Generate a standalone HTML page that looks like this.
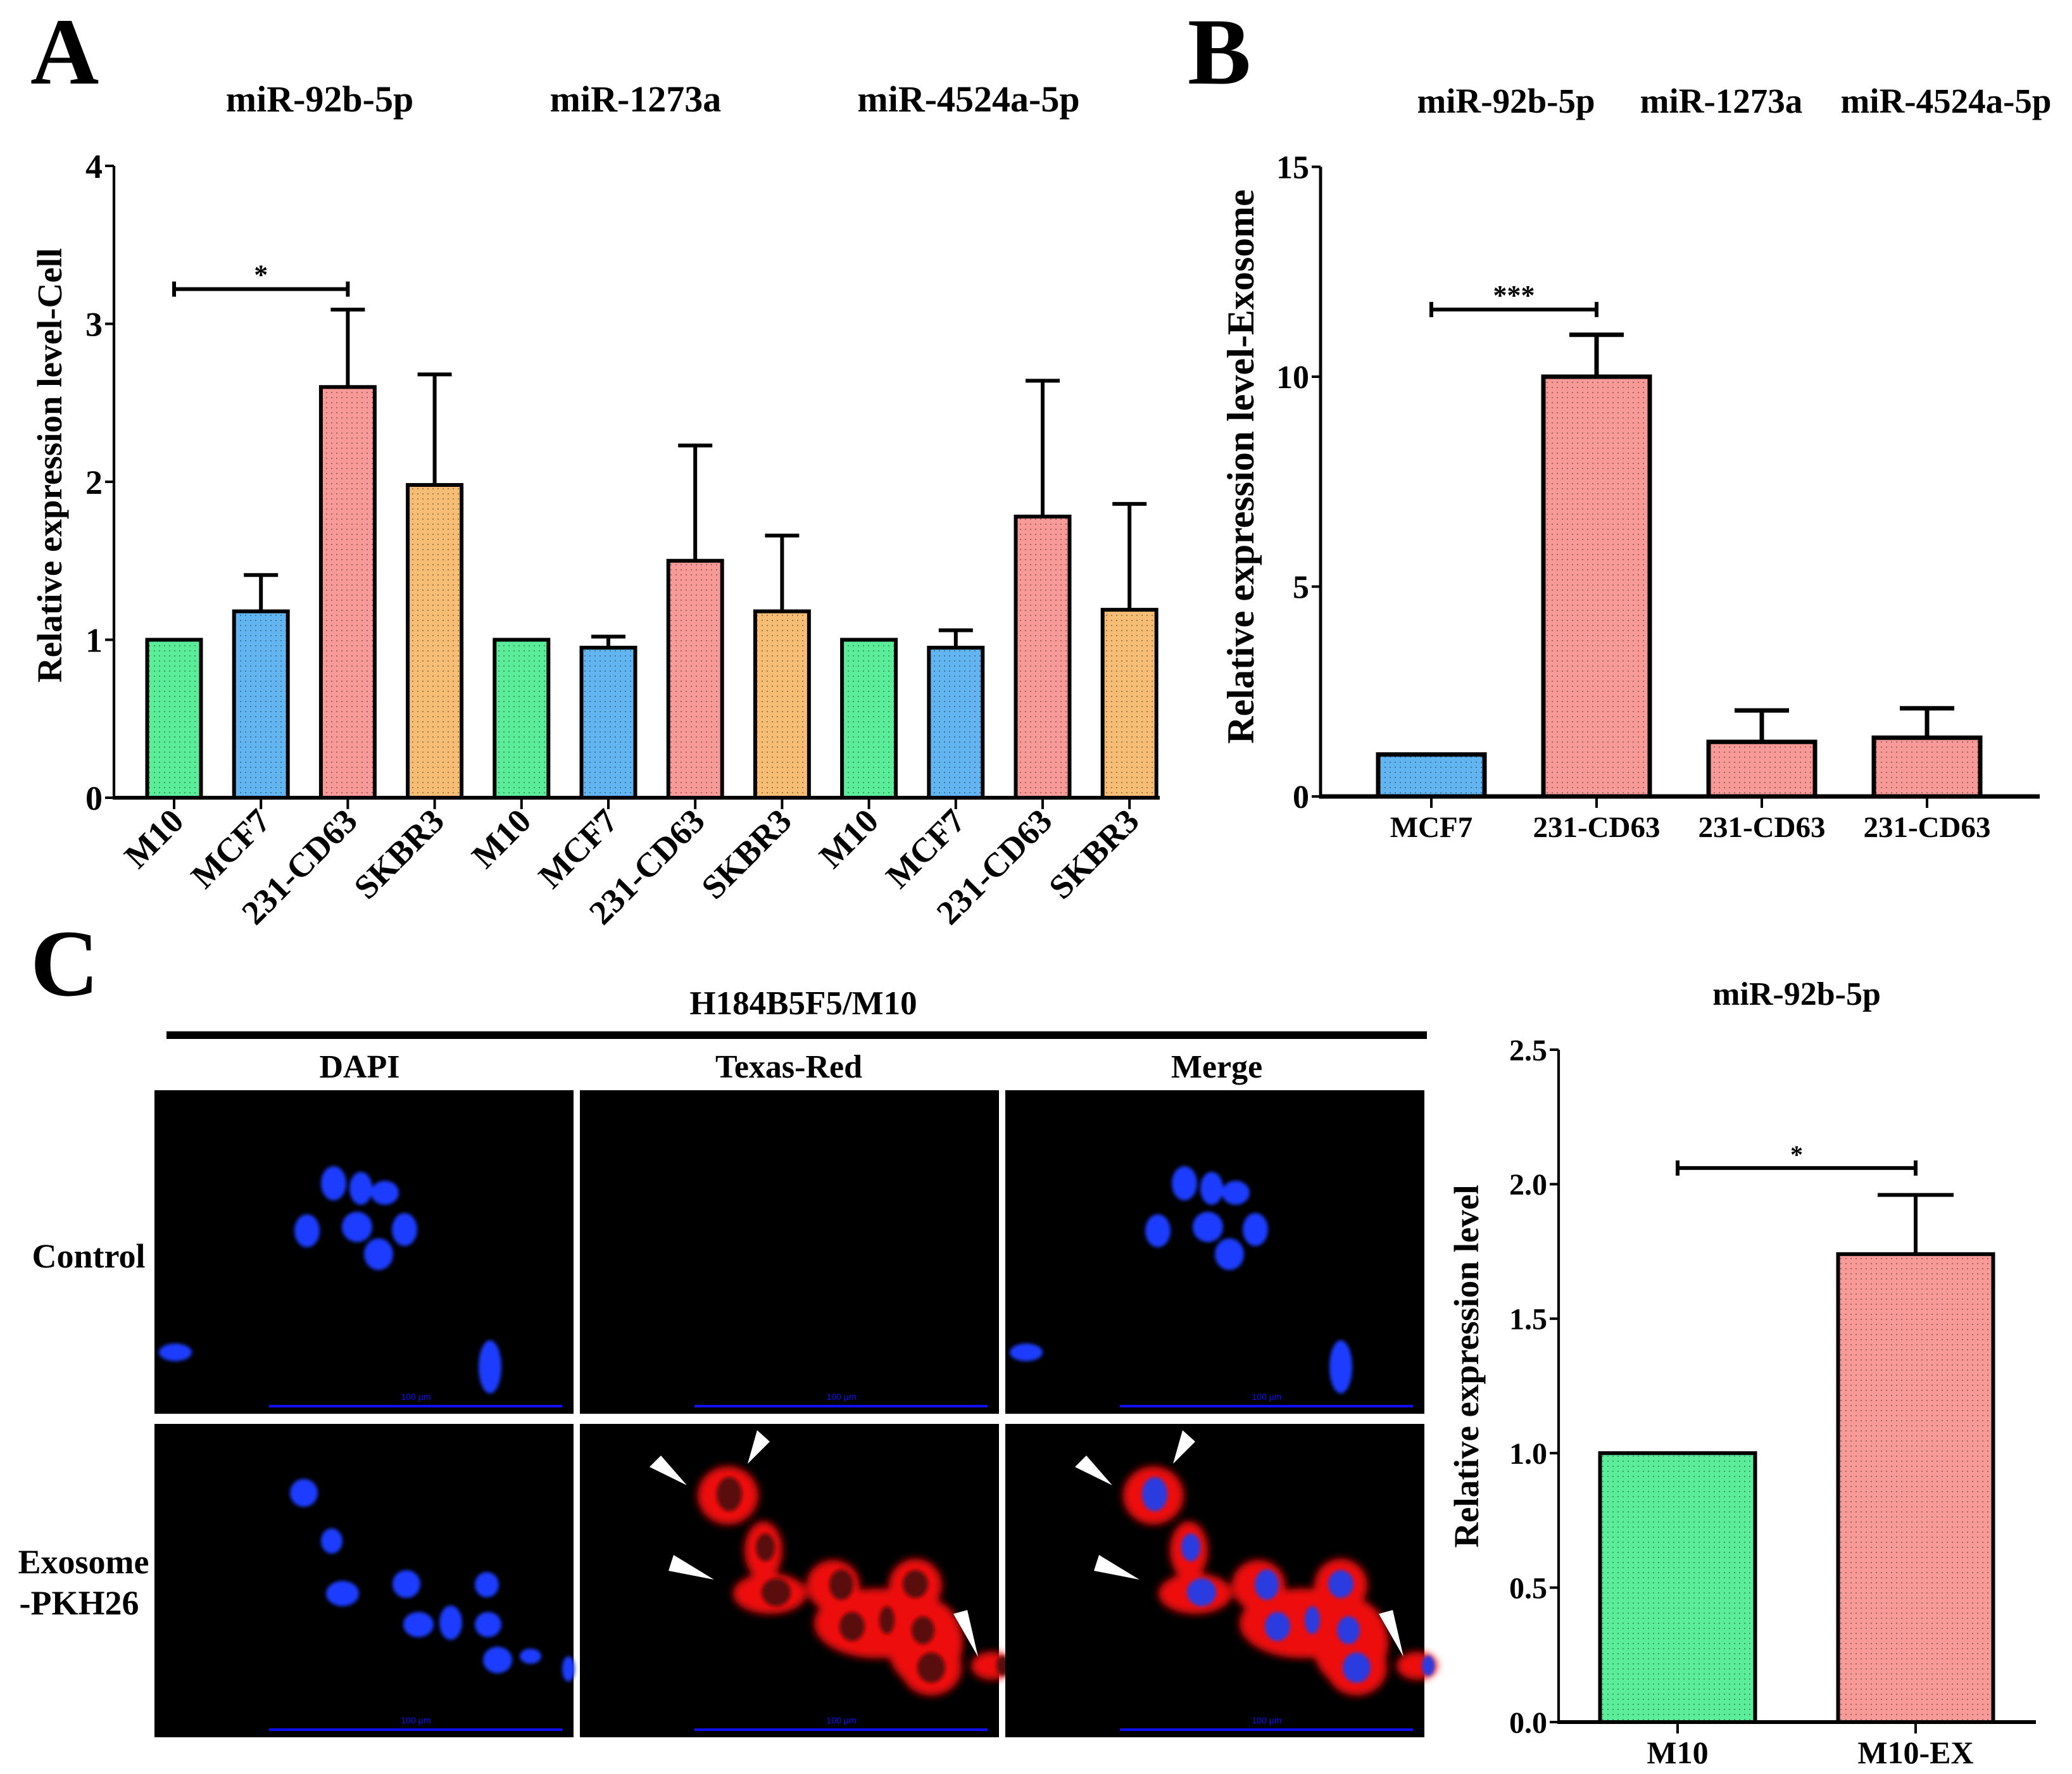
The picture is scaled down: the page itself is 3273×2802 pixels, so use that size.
<!DOCTYPE html>
<html><head><meta charset="utf-8"><style>
html,body{margin:0;padding:0;background:#fff;}
svg{display:block;font-family:"Liberation Serif",serif;font-weight:bold;}
</style></head><body>
<svg id="fig" xmlns="http://www.w3.org/2000/svg" width="3273" height="2802" viewBox="0 0 3273 2802">
<defs>
<pattern id="dots" width="8" height="8" patternUnits="userSpaceOnUse"><rect x="3" y="3" width="2" height="2" fill="rgba(0,0,0,0.35)"/></pattern>
<filter id="blur3"><feGaussianBlur stdDeviation="3"/></filter>
<filter id="blur6"><feGaussianBlur stdDeviation="6"/></filter>
</defs>
<text x="48" y="132" font-size="150">A</text>
<text x="1876" y="132" font-size="150">B</text>
<text x="48" y="1572" font-size="150">C</text>
<g id="chartA"></g>
<g id="chartB"></g>
<g id="chartC"></g>
<g id="micro"></g>
</svg>
<script>
// ---------- data ----------
const aGroups = ["miR-92b-5p","miR-1273a","miR-4524a-5p"];
const aCats = ["M10","MCF7","231-CD63","SKBR3","M10","MCF7","231-CD63","SKBR3","M10","MCF7","231-CD63","SKBR3"];
const aVals = [1,1.18,2.6,1.98,1,0.95,1.5,1.18,1,0.95,1.78,1.19];
const aErr  = [0,0.23,0.49,0.70,0,0.07,0.73,0.48,0,0.11,0.86,0.67];
const aTicks = [0,1,2,3,4];
const bGroups = ["miR-92b-5p","miR-1273a","miR-4524a-5p"];
const bCats = ["MCF7","231-CD63","231-CD63","231-CD63"];
const bVals = [1,10,1.3,1.4];
const bErr  = [0,1.0,0.75,0.7];
const bTicks = [0,5,10,15];
const cCats = ["M10","M10-EX"];
const cVals = [1,1.74];
const cErr  = [0,0.22];
const cTicks = ["0.0","0.5","1.0","1.5","2.0","2.5"];
const colorMap = {"M10":"#5ced9b","MCF7":"#63b5f2","231-CD63":"#f79a98","SKBR3":"#f8bd75","M10-EX":"#f79a98"};

const NS="http://www.w3.org/2000/svg";
function mk(parent,tag,attrs,text){const e=document.createElementNS(NS,tag);for(const k in attrs)e.setAttribute(k,attrs[k]);if(text!==undefined)e.textContent=text;parent.appendChild(e);return e;}

function drawChart(g,o){
  const {cats,vals,errs,ticks,x,y,x0,x1,yTop,bw,cap,lw,tickFs} = o;
  const y0=y(0);
  let e=mk(g,'line',{x1:x0,y1:y0,x2:x1,y2:y0,stroke:'#000','stroke-width':lw});
  
  
  e=mk(g,'line',{x1:x0,y1:y0+lw/2,x2:x0,y2:yTop,stroke:'#000','stroke-width':lw*0.7});
  
  
  ticks.forEach(t=>{
    const v=parseFloat(t), yy=y(v);
    mk(g,'line',{x1:x0-14,y1:yy,x2:x0,y2:yy,stroke:'#000','stroke-width':4});
    const tx=mk(g,'text',{x:x0-18,y:yy+tickFs*0.35,'font-size':tickFs,'text-anchor':'end'},t);
    
    
  });
  cats.forEach((c,i)=>{
    const cx=x(i), top=y(vals[i]);
    mk(g,'line',{x1:cx,y1:y0,x2:cx,y2:y0+18,stroke:'#000','stroke-width':4});
    if(errs[i]>0){
      const et=y(vals[i]+errs[i]);
      const eb=mk(g,'path',{d:`M${cx},${top} V${et} M${cx-cap},${et} H${cx+cap}`,stroke:'#000','stroke-width':lw,fill:'none'});
      
      
    }
    const r=mk(g,'rect',{x:cx-bw/2,y:top,width:bw,height:y0-top,fill:colorMap[c],stroke:'#000','stroke-width':lw});
    
    
    mk(g,'rect',{x:cx-bw/2+lw/2,y:top+lw/2,width:Math.max(0,bw-lw),height:Math.max(0,y0-top-lw),fill:'url(#dots)'});
  });
}
function bracket(g,x1,x2,yy,label,fs){
  const b=mk(g,'path',{d:`M${x1},${yy-12} V${yy+12} M${x1},${yy} H${x2} M${x2},${yy-12} V${yy+12}`,stroke:'#000','stroke-width':6,fill:'none'});
  
  
  const t=mk(g,'text',{x:(x1+x2)/2,y:yy-8,'font-size':fs,'text-anchor':'middle'},label);
  
  
}

// ---------- Chart A ----------
(function(){
  const g=document.getElementById('chartA');
  const x=i=>275+i*137.2, y=v=>1260-v*249.5;
  drawChart(g,{cats:aCats,vals:aVals,errs:aErr,ticks:aTicks.map(String),x,y,x0:180,x1:1832,yTop:y(4),bw:85,cap:27,lw:6,tickFs:54});
  aCats.forEach((c,i)=>{
    const t=mk(g,'text',{x:x(i)+18,y:1300,'font-size':54,'text-anchor':'end',transform:`rotate(-45 ${x(i)+18} 1300)`},c);
    
    
  });
  const gx=[505,1004,1530];
  aGroups.forEach((s,k)=>{
    const t=mk(g,'text',{x:gx[k],y:176,'font-size':58,'text-anchor':'middle'},s);
    
    
  });
  const yl=mk(g,'text',{x:0,y:0,'font-size':55,'text-anchor':'middle',transform:'translate(97,735) rotate(-90)'},'Relative expression level-Cell');
  
  
  bracket(g,x(0),x(2),y(3.22),'*',44);
})();

// ---------- Chart B ----------
(function(){
  const g=document.getElementById('chartB');
  const x=i=>2261+i*261, y=v=>1258-v*66.3;
  drawChart(g,{cats:bCats,vals:bVals,errs:bErr,ticks:bTicks.map(String),x,y,x0:2086,x1:3222,yTop:y(15),bw:168,cap:43,lw:7,tickFs:52});
  bCats.forEach((c,i)=>{
    const t=mk(g,'text',{x:x(i),y:1322,'font-size':47,'text-anchor':'middle'},c);
    
    
  });
  const gx=[2379,2719,3074];
  bGroups.forEach((s,k)=>{
    const t=mk(g,'text',{x:gx[k],y:178,'font-size':55,'text-anchor':'middle'},s);
    
    
  });
  const yl=mk(g,'text',{x:0,y:0,'font-size':60,'text-anchor':'middle',transform:'translate(1980,737) rotate(-90)'},'Relative expression level-Exosome');
  
  
  bracket(g,x(0),x(1),y(11.6),'***',44);
})();

// ---------- Chart C ----------
(function(){
  const g=document.getElementById('chartC');
  const x=i=>2650+i*376, y=v=>2720-v*424.8;
  drawChart(g,{cats:cCats,vals:cVals,errs:cErr,ticks:cTicks,x,y,x0:2462,x1:3216,yTop:y(2.5),bw:245,cap:60,lw:6,tickFs:48});
  cCats.forEach((c,i)=>{
    const t=mk(g,'text',{x:x(i),y:2785,'font-size':50,'text-anchor':'middle'},c);
    
    
  });
  const tt=mk(g,'text',{x:2838,y:1587,'font-size':52,'text-anchor':'middle'},'miR-92b-5p');
  
  
  const yl=mk(g,'text',{x:0,y:0,'font-size':55,'text-anchor':'middle',transform:'translate(2335,2158) rotate(-90)'},'Relative expression level');
  
  
  bracket(g,x(0),x(1),y(2.06),'*',40);
})();

// ---------- Microscopy ----------
(function(){
  const g=document.getElementById('micro');
  let t=mk(g,'text',{x:1269,y:1602,'font-size':53,'text-anchor':'middle'},'H184B5F5/M10');
  
  
  mk(g,'rect',{x:263,y:1629,width:1991,height:12,fill:'#000'});
  [['DAPI',568],['Texas-Red',1246],['Merge',1922]].forEach(([s,cx])=>{
    const e=mk(g,'text',{x:cx,y:1702,'font-size':52,'text-anchor':'middle'},s);
    
    
  });
  t=mk(g,'text',{x:140,y:2002,'font-size':54,'text-anchor':'middle'},'Control');
  
  
  t=mk(g,'text',{x:132,y:2485,'font-size':54,'text-anchor':'middle'},'Exosome');
  
  
  t=mk(g,'text',{x:125,y:2550,'font-size':54,'text-anchor':'middle'},'-PKH26');
  
  

  const cols=[244,916,1588], rows=[[1722,511],[2249,495]], W=662;
  const n1=[[283,147,20,27],[326,155,18,26],[364,162,22,19],[241,222,20,26],[320,216,24,24],[395,220,20,26],[354,259,23,25],[33,414,26,14],[530,437,18,42]];
  const n2=[[236,109,22,22],[280,185,17,20],[297,268,26,20],[398,253,22,22],[525,254,19,20],[417,317,24,20],[468,314,18,27],[527,317,21,20],[542,373,23,21],[594,367,17,12],[654,387,10,20]];
  const redCells=[[234,113,48,46],[290,200,30,46],[300,268,58,32],[400,255,42,40],[470,315,100,55],[530,255,42,42],[545,345,60,70],[650,382,32,22],[555,385,48,44]];
  const redNuc=[[236,111,20,27],[293,195,15,22],[310,266,23,22],[413,254,19,24],[430,320,20,23],[485,310,12,22],[530,253,20,22],[542,326,18,22],[555,385,22,24],[668,382,10,16]];
  const arrows=[[265,63,280,10,300,28],[169,97,110,68,128,50],[212,246,140,232,148,207],[629,368,590,300,612,294]];
  rows.forEach(([ry,rh],r)=>{
    cols.forEach((cx,c)=>{
      const pg=mk(g,'g',{transform:`translate(${cx},${ry})`});
      
      
      mk(pg,'rect',{x:0,y:0,width:W,height:rh,fill:'#000'});
      const blue=(r===0?n1:n2);
      if(r===1 && c>0){
        const rg=mk(pg,'g',{filter:'url(#blur6)'});
        redCells.forEach(([x,y,a,b])=>mk(rg,'ellipse',{cx:x,cy:y,rx:a,ry:b,fill:'#ee1010'}));
        const ng=mk(pg,'g',{filter:'url(#blur3)'});
        redNuc.forEach(([x,y,a,b])=>mk(ng,'ellipse',{cx:x,cy:y,rx:a,ry:b,fill:c===1?'#5a0808':'#2a3ae0'}));
        arrows.forEach(a=>mk(pg,'polygon',{points:`${a[0]},${a[1]} ${a[2]},${a[3]} ${a[4]},${a[5]}`,fill:'#fff'}));
      }
      if(c===0 || (r===0 && c===2)){
        const bg=mk(pg,'g',{filter:'url(#blur3)'});
        blue.forEach(([x,y,a,b])=>mk(bg,'ellipse',{cx:x,cy:y,rx:a,ry:b,fill:'#1a3cff'}));
      }
      mk(pg,'line',{x1:181,y1:rh-12,x2:644,y2:rh-12,stroke:'#1010ff','stroke-width':4});
      mk(pg,'text',{x:413,y:rh-22,'font-size':14,'font-weight':'normal','font-family':'Liberation Sans, sans-serif',fill:'#1010ff','text-anchor':'middle'},'100 µm');
    });
  });
})();
</script>
</body></html>
